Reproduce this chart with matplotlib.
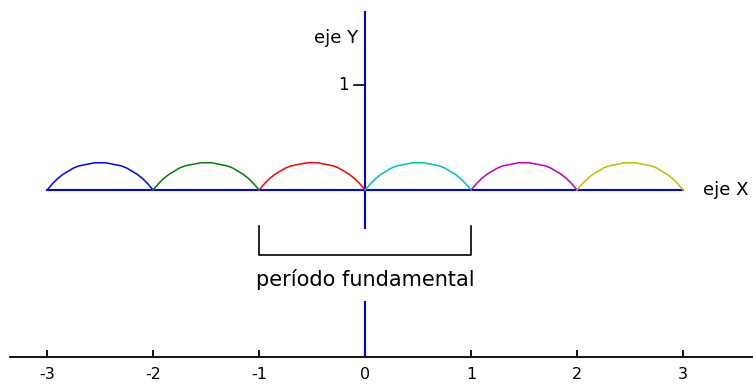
import matplotlib.pyplot as plt
import numpy as np

arc_x = np.linspace(0, 1, 21)
arc_y = [0, .06, .11, .15, .18, .21, .23, .24, .25, .26, .26,
         .26, .25, .24, .23, .21, .18, .15, .11, .06, 0]
period_starts = [-3, -2, -1, 0, 1, 2]
arc_colors = ['#0000ff', '#008000', '#ff0000', '#00bfbf', '#bf00bf', '#bfbf00']
x_ticks = [-3, -2, -1, 0, 1, 2, 3]
y_ticks = [1]
bracket_x = [-1, 1]


def main():
    fig = plt.figure(figsize=(7.53, 3.89), dpi=100)
    ax = fig.add_axes([0.0133, 0.0823, 0.9867, 0.9177])
    ax.set_xlim(-3.35, 3.66)
    ax.set_ylim(-1.59, 1.81)

    for s in ['top', 'left', 'right']:
        ax.spines[s].set_visible(False)
    ax.spines['bottom'].set_linewidth(1.3)
    ax.set_yticks([])
    ax.set_xticks(x_ticks)
    ax.set_xticklabels([str(t) for t in x_ticks], fontsize=11.5)
    ax.tick_params(axis='x', direction='in', length=5, width=1.3, pad=7)

    # x axis of the function
    ax.plot([period_starts[0], period_starts[-1] + 1], [0, 0], color='#0000ff', lw=1.5)
    # y axis, interrupted around the label
    ax.plot([0, 0], [1.695, -0.36], color='#0000ff', lw=1.5)
    ax.plot([0, 0], [-1.07, -1.59], color='#0000ff', lw=1.5)

    for x0, c in zip(period_starts, arc_colors):
        ax.plot(arc_x + x0, arc_y, color=c, lw=1.1)

    for yt in y_ticks:
        ax.plot([-0.1, 0], [yt, yt], color='black', lw=1.2)
        ax.text(-0.15, yt, str(yt), ha='right', va='center', fontsize=12)

    ax.text(-0.07, 1.45, 'eje Y', ha='right', va='center', fontsize=13)
    ax.text(3.19, 0, 'eje X', ha='left', va='center', fontsize=13)

    # bracket marking one period
    ax.plot([bracket_x[0], bracket_x[0], bracket_x[1], bracket_x[1]],
            [-0.34, -0.62, -0.62, -0.34], color='black', lw=1.2)
    ax.text(0, -0.85, 'período fundamental', ha='center', va='center', fontsize=15)

    fig.savefig('out.png', dpi=100)


main()
